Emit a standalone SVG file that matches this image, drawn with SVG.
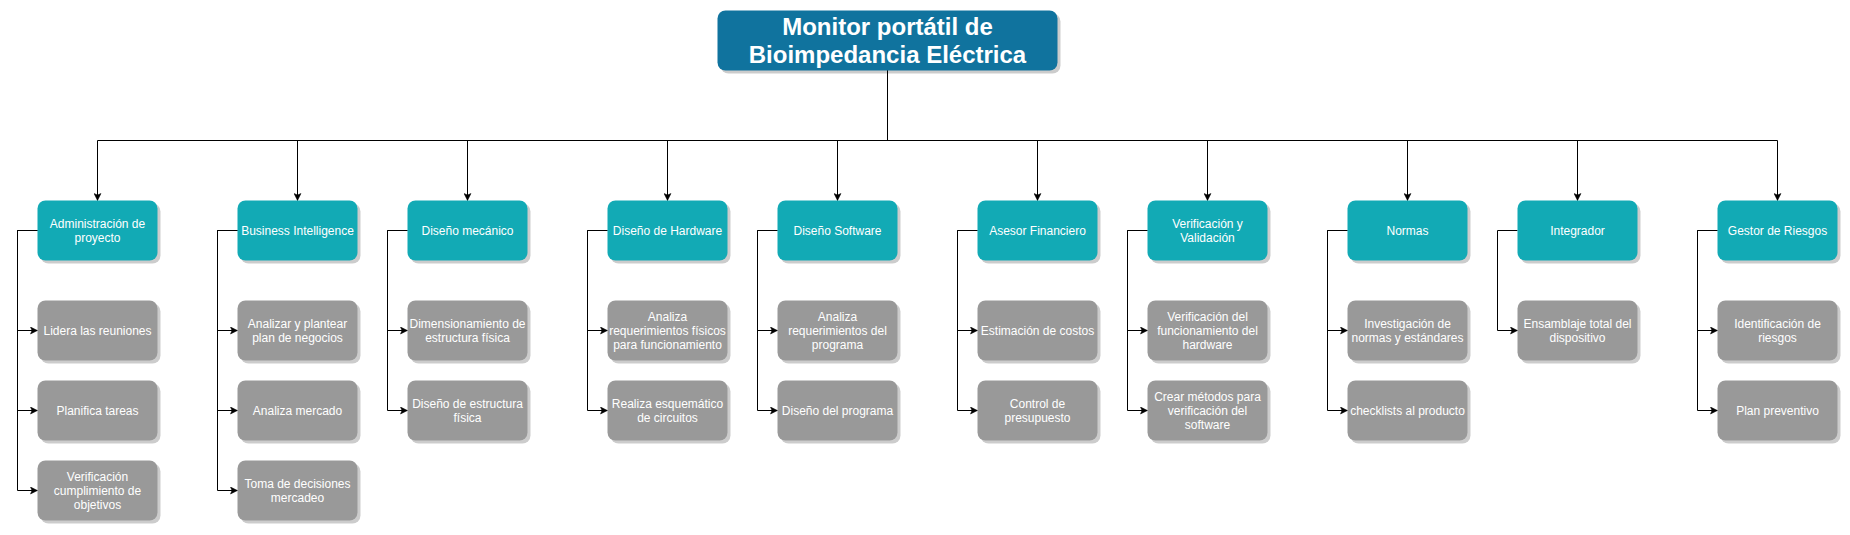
<svg xmlns="http://www.w3.org/2000/svg" width="1850" height="535" viewBox="0 0 1850 535">
<defs>
<style>
.sh{fill:#000;opacity:0.2}
.root{fill:#10739E}
.par{fill:#12AAB5}
.ch{fill:#999999}
.t{font-family:"Liberation Sans",Arial,Helvetica,sans-serif;font-size:12px;fill:#ffffff;text-anchor:middle}
.rt{font-family:"Liberation Sans",Arial,Helvetica,sans-serif;font-size:24px;font-weight:bold;fill:#ffffff;text-anchor:middle}
.e{fill:none;stroke:#000;stroke-width:1}
</style>
<marker id="arr" viewBox="-8 -4 9 8" refX="0" refY="0" markerWidth="9" markerHeight="8" markerUnits="userSpaceOnUse" orient="auto">
<path d="M-7,-3.5 L0,0 L-7,3.5 L-5.5,0 Z" fill="#000" stroke="#000" stroke-width="0.5"/>
</marker>
</defs>
<rect width="1850" height="535" fill="#ffffff"/>

<g id="connectors">
<path class="e" marker-end="url(#arr)" d="M887.5,70.5 V140.5 H97.5 V200.5"/>
<path class="e" marker-end="url(#arr)" d="M887.5,70.5 V140.5 H297.5 V200.5"/>
<path class="e" marker-end="url(#arr)" d="M887.5,70.5 V140.5 H467.5 V200.5"/>
<path class="e" marker-end="url(#arr)" d="M887.5,70.5 V140.5 H667.5 V200.5"/>
<path class="e" marker-end="url(#arr)" d="M887.5,70.5 V140.5 H837.5 V200.5"/>
<path class="e" marker-end="url(#arr)" d="M887.5,70.5 V140.5 H1037.5 V200.5"/>
<path class="e" marker-end="url(#arr)" d="M887.5,70.5 V140.5 H1207.5 V200.5"/>
<path class="e" marker-end="url(#arr)" d="M887.5,70.5 V140.5 H1407.5 V200.5"/>
<path class="e" marker-end="url(#arr)" d="M887.5,70.5 V140.5 H1577.5 V200.5"/>
<path class="e" marker-end="url(#arr)" d="M887.5,70.5 V140.5 H1777.5 V200.5"/>

<path class="e" marker-end="url(#arr)" d="M37.5,230.5 H17.5 V330.5 H37.5"/>
<path class="e" marker-end="url(#arr)" d="M37.5,230.5 H17.5 V410.5 H37.5"/>
<path class="e" marker-end="url(#arr)" d="M37.5,230.5 H17.5 V490.5 H37.5"/>

<path class="e" marker-end="url(#arr)" d="M237.5,230.5 H217.5 V330.5 H237.5"/>
<path class="e" marker-end="url(#arr)" d="M237.5,230.5 H217.5 V410.5 H237.5"/>
<path class="e" marker-end="url(#arr)" d="M237.5,230.5 H217.5 V490.5 H237.5"/>

<path class="e" marker-end="url(#arr)" d="M407.5,230.5 H387.5 V330.5 H407.5"/>
<path class="e" marker-end="url(#arr)" d="M407.5,230.5 H387.5 V410.5 H407.5"/>

<path class="e" marker-end="url(#arr)" d="M607.5,230.5 H587.5 V330.5 H607.5"/>
<path class="e" marker-end="url(#arr)" d="M607.5,230.5 H587.5 V410.5 H607.5"/>

<path class="e" marker-end="url(#arr)" d="M777.5,230.5 H757.5 V330.5 H777.5"/>
<path class="e" marker-end="url(#arr)" d="M777.5,230.5 H757.5 V410.5 H777.5"/>

<path class="e" marker-end="url(#arr)" d="M977.5,230.5 H957.5 V330.5 H977.5"/>
<path class="e" marker-end="url(#arr)" d="M977.5,230.5 H957.5 V410.5 H977.5"/>

<path class="e" marker-end="url(#arr)" d="M1147.5,230.5 H1127.5 V330.5 H1147.5"/>
<path class="e" marker-end="url(#arr)" d="M1147.5,230.5 H1127.5 V410.5 H1147.5"/>

<path class="e" marker-end="url(#arr)" d="M1347.5,230.5 H1327.5 V330.5 H1347.5"/>
<path class="e" marker-end="url(#arr)" d="M1347.5,230.5 H1327.5 V410.5 H1347.5"/>

<path class="e" marker-end="url(#arr)" d="M1517.5,230.5 H1497.5 V330.5 H1517.5"/>

<path class="e" marker-end="url(#arr)" d="M1717.5,230.5 H1697.5 V330.5 H1717.5"/>
<path class="e" marker-end="url(#arr)" d="M1717.5,230.5 H1697.5 V410.5 H1717.5"/>
</g>

<g id="root">
<rect class="sh" x="720.5" y="13.5" width="340" height="60" rx="8"/>
<rect class="root" x="717.5" y="10.5" width="340" height="60" rx="8"/>
<text class="rt" x="887.5" y="35">Monitor portátil de</text>
<text class="rt" x="887.5" y="63">Bioimpedancia Eléctrica</text>
</g>

<!-- Column 1 -->
<g id="admin">
<rect class="sh" x="40.5" y="203.5" width="120" height="60" rx="8"/>
<rect class="par" x="37.5" y="200.5" width="120" height="60" rx="8"/>
<text class="t" x="97.5" y="228"><tspan x="97.5">Administración de</tspan><tspan x="97.5" dy="14">proyecto</tspan></text>
</g>
<g id="admin-1">
<rect class="sh" x="40.5" y="303.5" width="120" height="60" rx="8"/>
<rect class="ch" x="37.5" y="300.5" width="120" height="60" rx="8"/>
<text class="t" x="97.5" y="335">Lidera las reuniones</text>
</g>
<g id="admin-2">
<rect class="sh" x="40.5" y="383.5" width="120" height="60" rx="8"/>
<rect class="ch" x="37.5" y="380.5" width="120" height="60" rx="8"/>
<text class="t" x="97.5" y="415">Planifica tareas</text>
</g>
<g id="admin-3">
<rect class="sh" x="40.5" y="463.5" width="120" height="60" rx="8"/>
<rect class="ch" x="37.5" y="460.5" width="120" height="60" rx="8"/>
<text class="t" x="97.5" y="481"><tspan x="97.5">Verificación</tspan><tspan x="97.5" dy="14">cumplimiento de</tspan><tspan x="97.5" dy="14">objetivos</tspan></text>
</g>

<!-- Column 2 -->
<g id="bi">
<rect class="sh" x="240.5" y="203.5" width="120" height="60" rx="8"/>
<rect class="par" x="237.5" y="200.5" width="120" height="60" rx="8"/>
<text class="t" x="297.5" y="235">Business Intelligence</text>
</g>
<g id="bi-1">
<rect class="sh" x="240.5" y="303.5" width="120" height="60" rx="8"/>
<rect class="ch" x="237.5" y="300.5" width="120" height="60" rx="8"/>
<text class="t" x="297.5" y="328"><tspan x="297.5">Analizar y plantear</tspan><tspan x="297.5" dy="14">plan de negocios</tspan></text>
</g>
<g id="bi-2">
<rect class="sh" x="240.5" y="383.5" width="120" height="60" rx="8"/>
<rect class="ch" x="237.5" y="380.5" width="120" height="60" rx="8"/>
<text class="t" x="297.5" y="415">Analiza mercado</text>
</g>
<g id="bi-3">
<rect class="sh" x="240.5" y="463.5" width="120" height="60" rx="8"/>
<rect class="ch" x="237.5" y="460.5" width="120" height="60" rx="8"/>
<text class="t" x="297.5" y="488"><tspan x="297.5">Toma de decisiones</tspan><tspan x="297.5" dy="14">mercadeo</tspan></text>
</g>

<!-- Column 3 -->
<g id="mecanico">
<rect class="sh" x="410.5" y="203.5" width="120" height="60" rx="8"/>
<rect class="par" x="407.5" y="200.5" width="120" height="60" rx="8"/>
<text class="t" x="467.5" y="235">Diseño mecánico</text>
</g>
<g id="mecanico-1">
<rect class="sh" x="410.5" y="303.5" width="120" height="60" rx="8"/>
<rect class="ch" x="407.5" y="300.5" width="120" height="60" rx="8"/>
<text class="t" x="467.5" y="328"><tspan x="467.5">Dimensionamiento de</tspan><tspan x="467.5" dy="14">estructura física</tspan></text>
</g>
<g id="mecanico-2">
<rect class="sh" x="410.5" y="383.5" width="120" height="60" rx="8"/>
<rect class="ch" x="407.5" y="380.5" width="120" height="60" rx="8"/>
<text class="t" x="467.5" y="408"><tspan x="467.5">Diseño de estructura</tspan><tspan x="467.5" dy="14">física</tspan></text>
</g>

<!-- Column 4 -->
<g id="hardware">
<rect class="sh" x="610.5" y="203.5" width="120" height="60" rx="8"/>
<rect class="par" x="607.5" y="200.5" width="120" height="60" rx="8"/>
<text class="t" x="667.5" y="235">Diseño de Hardware</text>
</g>
<g id="hardware-1">
<rect class="sh" x="610.5" y="303.5" width="120" height="60" rx="8"/>
<rect class="ch" x="607.5" y="300.5" width="120" height="60" rx="8"/>
<text class="t" x="667.5" y="321"><tspan x="667.5">Analiza</tspan><tspan x="667.5" dy="14">requerimientos físicos</tspan><tspan x="667.5" dy="14">para funcionamiento</tspan></text>
</g>
<g id="hardware-2">
<rect class="sh" x="610.5" y="383.5" width="120" height="60" rx="8"/>
<rect class="ch" x="607.5" y="380.5" width="120" height="60" rx="8"/>
<text class="t" x="667.5" y="408"><tspan x="667.5">Realiza esquemático</tspan><tspan x="667.5" dy="14">de circuitos</tspan></text>
</g>

<!-- Column 5 -->
<g id="software">
<rect class="sh" x="780.5" y="203.5" width="120" height="60" rx="8"/>
<rect class="par" x="777.5" y="200.5" width="120" height="60" rx="8"/>
<text class="t" x="837.5" y="235">Diseño Software</text>
</g>
<g id="software-1">
<rect class="sh" x="780.5" y="303.5" width="120" height="60" rx="8"/>
<rect class="ch" x="777.5" y="300.5" width="120" height="60" rx="8"/>
<text class="t" x="837.5" y="321"><tspan x="837.5">Analiza</tspan><tspan x="837.5" dy="14">requerimientos del</tspan><tspan x="837.5" dy="14">programa</tspan></text>
</g>
<g id="software-2">
<rect class="sh" x="780.5" y="383.5" width="120" height="60" rx="8"/>
<rect class="ch" x="777.5" y="380.5" width="120" height="60" rx="8"/>
<text class="t" x="837.5" y="415">Diseño del programa</text>
</g>

<!-- Column 6 -->
<g id="asesor">
<rect class="sh" x="980.5" y="203.5" width="120" height="60" rx="8"/>
<rect class="par" x="977.5" y="200.5" width="120" height="60" rx="8"/>
<text class="t" x="1037.5" y="235">Asesor Financiero</text>
</g>
<g id="asesor-1">
<rect class="sh" x="980.5" y="303.5" width="120" height="60" rx="8"/>
<rect class="ch" x="977.5" y="300.5" width="120" height="60" rx="8"/>
<text class="t" x="1037.5" y="335">Estimación de costos</text>
</g>
<g id="asesor-2">
<rect class="sh" x="980.5" y="383.5" width="120" height="60" rx="8"/>
<rect class="ch" x="977.5" y="380.5" width="120" height="60" rx="8"/>
<text class="t" x="1037.5" y="408"><tspan x="1037.5">Control de</tspan><tspan x="1037.5" dy="14">presupuesto</tspan></text>
</g>

<!-- Column 7 -->
<g id="verificacion">
<rect class="sh" x="1150.5" y="203.5" width="120" height="60" rx="8"/>
<rect class="par" x="1147.5" y="200.5" width="120" height="60" rx="8"/>
<text class="t" x="1207.5" y="228"><tspan x="1207.5">Verificación y</tspan><tspan x="1207.5" dy="14">Validación</tspan></text>
</g>
<g id="verificacion-1">
<rect class="sh" x="1150.5" y="303.5" width="120" height="60" rx="8"/>
<rect class="ch" x="1147.5" y="300.5" width="120" height="60" rx="8"/>
<text class="t" x="1207.5" y="321"><tspan x="1207.5">Verificación del</tspan><tspan x="1207.5" dy="14">funcionamiento del</tspan><tspan x="1207.5" dy="14">hardware</tspan></text>
</g>
<g id="verificacion-2">
<rect class="sh" x="1150.5" y="383.5" width="120" height="60" rx="8"/>
<rect class="ch" x="1147.5" y="380.5" width="120" height="60" rx="8"/>
<text class="t" x="1207.5" y="401"><tspan x="1207.5">Crear métodos para</tspan><tspan x="1207.5" dy="14">verificación del</tspan><tspan x="1207.5" dy="14">software</tspan></text>
</g>

<!-- Column 8 -->
<g id="normas">
<rect class="sh" x="1350.5" y="203.5" width="120" height="60" rx="8"/>
<rect class="par" x="1347.5" y="200.5" width="120" height="60" rx="8"/>
<text class="t" x="1407.5" y="235">Normas</text>
</g>
<g id="normas-1">
<rect class="sh" x="1350.5" y="303.5" width="120" height="60" rx="8"/>
<rect class="ch" x="1347.5" y="300.5" width="120" height="60" rx="8"/>
<text class="t" x="1407.5" y="328"><tspan x="1407.5">Investigación de</tspan><tspan x="1407.5" dy="14">normas y estándares</tspan></text>
</g>
<g id="normas-2">
<rect class="sh" x="1350.5" y="383.5" width="120" height="60" rx="8"/>
<rect class="ch" x="1347.5" y="380.5" width="120" height="60" rx="8"/>
<text class="t" x="1407.5" y="415">checklists al producto</text>
</g>

<!-- Column 9 -->
<g id="integrador">
<rect class="sh" x="1520.5" y="203.5" width="120" height="60" rx="8"/>
<rect class="par" x="1517.5" y="200.5" width="120" height="60" rx="8"/>
<text class="t" x="1577.5" y="235">Integrador</text>
</g>
<g id="integrador-1">
<rect class="sh" x="1520.5" y="303.5" width="120" height="60" rx="8"/>
<rect class="ch" x="1517.5" y="300.5" width="120" height="60" rx="8"/>
<text class="t" x="1577.5" y="328"><tspan x="1577.5">Ensamblaje total del</tspan><tspan x="1577.5" dy="14">dispositivo</tspan></text>
</g>

<!-- Column 10 -->
<g id="riesgos">
<rect class="sh" x="1720.5" y="203.5" width="120" height="60" rx="8"/>
<rect class="par" x="1717.5" y="200.5" width="120" height="60" rx="8"/>
<text class="t" x="1777.5" y="235">Gestor de Riesgos</text>
</g>
<g id="riesgos-1">
<rect class="sh" x="1720.5" y="303.5" width="120" height="60" rx="8"/>
<rect class="ch" x="1717.5" y="300.5" width="120" height="60" rx="8"/>
<text class="t" x="1777.5" y="328"><tspan x="1777.5">Identificación de</tspan><tspan x="1777.5" dy="14">riesgos</tspan></text>
</g>
<g id="riesgos-2">
<rect class="sh" x="1720.5" y="383.5" width="120" height="60" rx="8"/>
<rect class="ch" x="1717.5" y="380.5" width="120" height="60" rx="8"/>
<text class="t" x="1777.5" y="415">Plan preventivo</text>
</g>
</svg>
